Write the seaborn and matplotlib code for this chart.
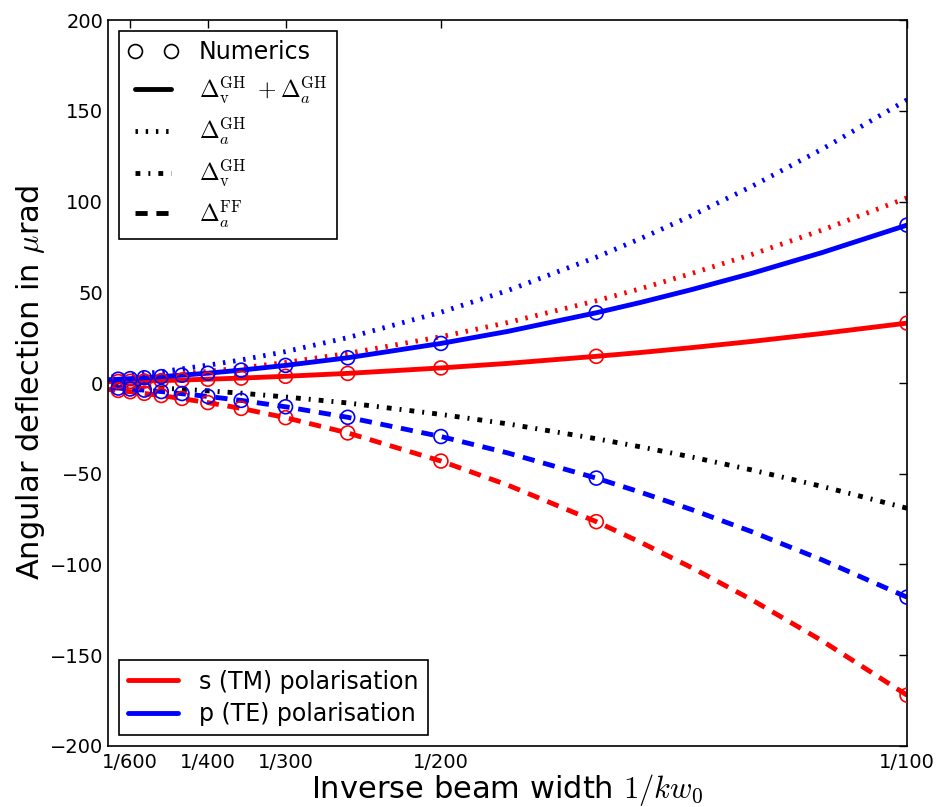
import numpy as np
import pandas as pd
import matplotlib
matplotlib.use("Agg")
import matplotlib.pyplot as plt
import seaborn as sns
from matplotlib.lines import Line2D

kw_line = [100, 110, 120, 130, 140, 150, 175, 200, 250, 300, 350, 400, 500, 600, 700]
s_total = [33.0, 27.3, 22.9, 19.5, 16.8, 14.7, 10.8, 8.3, 5.3, 3.7, 2.7, 2.1, 1.3, 0.9, 0.7]
p_total = [87.0, 71.9, 60.4, 51.5, 44.4, 38.7, 28.4, 21.8, 13.9, 9.7, 7.1, 5.4, 3.5, 2.4, 1.8]
s_a_gh = [102.0, 84.3, 70.8, 60.4, 52.0, 45.3, 33.3, 25.5, 16.3, 11.3, 8.3, 6.4, 4.1, 2.8, 2.1]
p_a_gh = [156.0, 128.9, 108.3, 92.3, 79.6, 69.3, 50.9, 39.0, 25.0, 17.3, 12.7, 9.8, 6.2, 4.3, 3.2]
v_gh = [-69.0, -57.0, -47.9, -40.8, -35.2, -30.7, -22.5, -17.3, -11.0, -7.7, -5.6, -4.3, -2.8, -1.9, -1.4]
s_ff = [-172.0, -142.1, -119.4, -101.8, -87.8, -76.4, -56.2, -43.0, -27.5, -19.1, -14.0, -10.8, -6.9, -4.8, -3.5]
p_ff = [-118.0, -97.5, -81.9, -69.8, -60.2, -52.4, -38.5, -29.5, -18.9, -13.1, -9.6, -7.4, -4.7, -3.3, -2.4]

# numerical results
kw_num = [100, 150, 200, 250, 300, 350, 400, 450, 500, 550, 600, 650]
s_total_num = [33.0, 14.7, 8.3, 5.3, 3.7, 2.7, 2.1, 1.6, 1.3, 1.1, 0.9, 0.8]
p_total_num = [87.0, 38.7, 21.8, 13.9, 9.7, 7.1, 5.4, 4.3, 3.5, 2.9, 2.4, 2.1]
s_ff_num = [-172.0, -76.4, -43.0, -27.5, -19.1, -14.0, -10.8, -8.5, -6.9, -5.7, -4.8, -4.1]
p_ff_num = [-118.0, -52.4, -29.5, -18.9, -13.1, -9.6, -7.4, -5.8, -4.7, -3.9, -3.3, -2.8]

tick_kw = [600, 400, 300, 200, 100]
tick_labels = ["1/600", "1/400", "1/300", "1/200", "1/100"]

sns.set_style("white")
plt.rcParams["font.family"] = ["DejaVu Sans"]
plt.rcParams["mathtext.fontset"] = "cm"
plt.rcParams["text.color"] = "black"
plt.rcParams["axes.labelcolor"] = "black"

RED = "#ff0000"
BLUE = "#0000ff"
LW = 3.5
DOT = (0, (0.5, 1.6))
DASHDOT = (0, (1.0, 1.65, 0.4, 1.65))
DASH = (0, (2.5, 1.8))

x_line = 1.0 / np.array(kw_line)
x_num = 1.0 / np.array(kw_num)

fig = plt.figure(figsize=(9.4, 8.07), dpi=100)
ax = fig.add_axes([0.1149, 0.0756, 0.8500, 0.8996])

curves = [
    (s_a_gh, RED, DOT),
    (p_a_gh, BLUE, DOT),
    (v_gh, "black", DASHDOT),
    (s_ff, RED, DASH),
    (p_ff, BLUE, DASH),
    (s_total, RED, "-"),
    (p_total, BLUE, "-"),
]
for vals, col, ls in curves:
    sns.lineplot(x=x_line, y=vals, color=col, linestyle=ls, linewidth=LW,
                 ax=ax, sort=False)

for vals, col in [(s_total_num, RED), (p_total_num, BLUE), (s_ff_num, RED), (p_ff_num, BLUE)]:
    sns.scatterplot(x=x_num, y=vals, marker="o", s=100, facecolors="none",
                    edgecolor=col, linewidth=1.2, ax=ax, zorder=5)

ax.set_xlim(1.0 / 700, 1.0 / 100)
ax.set_ylim(-200, 200)
ax.set_xticks(1.0 / np.array(tick_kw))
ax.set_xticklabels(tick_labels)
ax.set_yticks(np.arange(-200, 201, 50))
ax.tick_params(direction="in", length=6, width=1, labelsize=14,
               top=True, right=True, colors="black")
ax.tick_params(axis="x", pad=5)
for sp in ax.spines.values():
    sp.set_color("black")
    sp.set_linewidth(1.2)

ax.set_xlabel(r"Inverse beam width $1/kw_0$", fontsize=22, labelpad=0)
ax.set_ylabel(r"Angular deflection in $\mu$rad", fontsize=22, labelpad=2)

handles1 = [
    Line2D([], [], color="black", marker="o", linestyle="none", mfc="none", ms=10, mew=1.2),
    Line2D([], [], color="black", linestyle="-", linewidth=LW),
    Line2D([], [], color="black", linestyle=DOT, linewidth=LW),
    Line2D([], [], color="black", linestyle=DASHDOT, linewidth=LW),
    Line2D([], [], color="black", linestyle=DASH, linewidth=LW),
]
labels1 = [
    "Numerics",
    r"$\Delta_{\rm v}^{\rm GH}\ +\Delta_a^{\rm GH}$",
    r"$\Delta_a^{\rm GH}$",
    r"$\Delta_{\rm v}^{\rm GH}$",
    r"$\Delta_a^{\rm FF}$",
]
leg1 = ax.legend(handles1, labels1, loc="upper left", fontsize=17, numpoints=2,
                 fancybox=False, framealpha=1, edgecolor="black",
                 handlelength=2.1, handletextpad=0.9, labelspacing=0.42,
                 borderaxespad=0.45, borderpad=0.4)
leg1.get_frame().set_linewidth(1.2)
ax.add_artist(leg1)

handles2 = [
    Line2D([], [], color=RED, linewidth=LW),
    Line2D([], [], color=BLUE, linewidth=LW),
]
leg2 = ax.legend(handles2, ["s (TM) polarisation", "p (TE) polarisation"],
                 loc="lower left", fontsize=17, fancybox=False, framealpha=1,
                 edgecolor="black", handlelength=2.1, handletextpad=0.9,
                 labelspacing=0.35, borderaxespad=0.45)
leg2.get_frame().set_linewidth(1.2)

fig.savefig("out.png", dpi=100, facecolor="white")
